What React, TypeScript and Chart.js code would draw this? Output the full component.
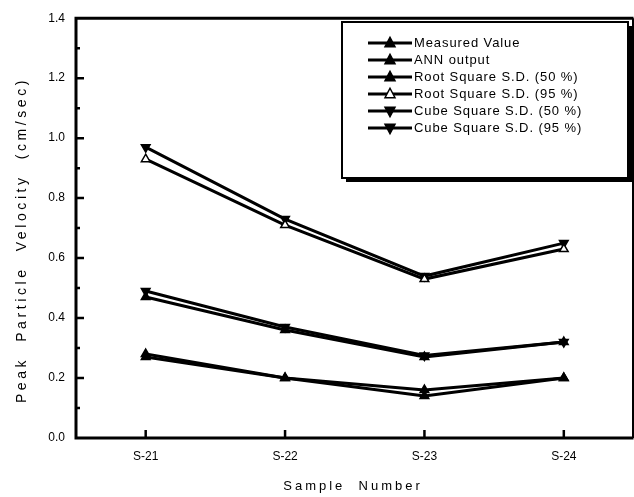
import React, { useEffect, useRef } from "react";
import { Chart, registerables } from "chart.js";

Chart.register(...registerables);

const categories = ["S-21", "S-22", "S-23", "S-24"];
const measuredValue = [0.28, 0.2, 0.16, 0.2];
const annOutput = [0.27, 0.2, 0.14, 0.2];
const rootSD50 = [0.47, 0.36, 0.27, 0.32];
const rootSD95 = [0.93, 0.71, 0.53, 0.63];
const cubeSD50 = [0.49, 0.37, 0.275, 0.32];
const cubeSD95 = [0.97, 0.73, 0.54, 0.65];
const seriesNames = [
  "Measured Value",
  "ANN output",
  "Root Square S.D. (50 %)",
  "Root Square S.D. (95 %)",
  "Cube Square S.D. (50 %)",
  "Cube Square S.D. (95 %)",
];
const yTitle = "Peak  Particle  Velocity  (cm/sec)";
const xTitle = "Sample  Number";

const FONT = "'Liberation Sans', Arial, sans-serif";

const framePlugin = {
  id: "frame",
  afterDraw(chart: any) {
    const { ctx, chartArea } = chart;
    const { left, right, top, bottom } = chartArea;
    const x = chart.scales.x;
    const y = chart.scales.y;
    ctx.save();
    ctx.strokeStyle = "#000";
    ctx.lineWidth = 3;
    ctx.beginPath();
    ctx.moveTo(left, top);
    ctx.lineTo(right, top);
    ctx.moveTo(right, top);
    ctx.lineTo(right, bottom);
    ctx.moveTo(left - 1.5, bottom);
    ctx.lineTo(right, bottom);
    ctx.moveTo(left, top - 1.5);
    ctx.lineTo(left, bottom + 1.5);
    ctx.stroke();
    // inward ticks
    ctx.lineWidth = 2.5;
    ctx.beginPath();
    for (let i = 1; i < 14; i++) {
      const v = i / 10;
      const py = y.getPixelForValue(v);
      const len = i % 2 === 0 ? 8 : 4;
      ctx.moveTo(left, py);
      ctx.lineTo(left + len, py);
    }
    for (let i = 0; i < categories.length; i++) {
      const px = x.getPixelForValue(i);
      ctx.moveTo(px, bottom);
      ctx.lineTo(px, bottom - 8);
    }
    ctx.stroke();

    // axis titles
    ctx.fillStyle = "#000";
    ctx.font = `13px ${FONT}`;
    (ctx as any).letterSpacing = "3px";
    ctx.textAlign = "center";
    ctx.textBaseline = "middle";
    ctx.fillText(xTitle, 353, 486);
    ctx.save();
    ctx.translate(22, 240);
    ctx.rotate(-Math.PI / 2);
    ctx.font = `14px ${FONT}`;
    (ctx as any).letterSpacing = "3.6px";
    ctx.fillText(yTitle, 0, 0);
    ctx.restore();
    ctx.restore();
  },
};

const legendPlugin = {
  id: "customLegend",
  afterDraw(chart: any) {
    const { ctx } = chart;
    const bx = 342, by = 22, bw = 286, bh = 156;
    ctx.save();
    ctx.fillStyle = "#000";
    ctx.fillRect(bx + 4, by + 4, bw, bh);
    ctx.fillStyle = "#fff";
    ctx.fillRect(bx, by, bw, bh);
    ctx.strokeStyle = "#000";
    ctx.lineWidth = 2;
    ctx.strokeRect(bx, by, bw, bh);
    chart.data.datasets.forEach((ds: any, i: number) => {
      const ry = 43 + i * 17;
      ctx.strokeStyle = "#000";
      ctx.lineWidth = 3;
      ctx.beginPath();
      ctx.moveTo(368, ry);
      ctx.lineTo(412, ry);
      ctx.stroke();
      ctx.lineWidth = 1.5;
      ctx.fillStyle = ds.pointBackgroundColor;
      ctx.strokeStyle = "#000";
      const r = 5;
      ctx.save();
      ctx.translate(390, ry);
      ctx.rotate(((ds.pointRotation || 0) * Math.PI) / 180);
      ctx.beginPath();
      ctx.moveTo(0, -r * 1.15);
      ctx.lineTo(r, r * 0.75);
      ctx.lineTo(-r, r * 0.75);
      ctx.closePath();
      ctx.fill();
      ctx.stroke();
      ctx.restore();
      ctx.fillStyle = "#000";
      ctx.font = `13px ${FONT}`;
      (ctx as any).letterSpacing = "0.9px";
      ctx.textAlign = "left";
      ctx.textBaseline = "middle";
      ctx.fillText(ds.label, 414, ry);
    });
    ctx.restore();
  },
};

function makeDataset(label: string, data: number[], fill: string, rotation: number) {
  return {
    label,
    data,
    borderColor: "#000",
    borderWidth: 3,
    pointStyle: "triangle",
    pointRotation: rotation,
    pointRadius: 5,
    pointBorderWidth: 1.5,
    pointBackgroundColor: fill,
    pointBorderColor: "#000",
    fill: false,
    tension: 0,
  };
}

export default function App() {
  const ref = useRef<HTMLCanvasElement>(null);
  useEffect(() => {
    if (!ref.current) return;
    const chart = new Chart(ref.current, {
      type: "line",
      data: {
        labels: categories,
        datasets: [
          makeDataset(seriesNames[0], measuredValue, "#000", 0),
          makeDataset(seriesNames[1], annOutput, "#000", 0),
          makeDataset(seriesNames[2], rootSD50, "#000", 0),
          makeDataset(seriesNames[3], rootSD95, "#fff", 0),
          makeDataset(seriesNames[4], cubeSD50, "#000", 180),
          makeDataset(seriesNames[5], cubeSD95, "#000", 180),
        ] as any,
      },
      options: {
        animation: false,
        responsive: false,
        layout: { padding: { top: 15, right: 0, left: 0, bottom: 0 } },
        plugins: { legend: { display: false }, tooltip: { enabled: false } },
        scales: {
          x: {
            type: "category",
            offset: true,
            grid: { display: false, drawTicks: false },
            border: { display: false },
            ticks: { color: "#000", font: { family: FONT, size: 12 }, padding: 11 },
            afterFit(scale: any) {
              scale.height = 59;
            },
          },
          y: {
            min: 0,
            max: 1.4,
            grid: { display: false, drawTicks: false },
            border: { display: false },
            ticks: {
              stepSize: 0.2,
              color: "#000",
              font: { family: FONT, size: 12 },
              padding: 11,
              callback: (v: any) => Number(v).toFixed(1),
            },
            afterFit(scale: any) {
              scale.width = 76;
            },
          },
        },
      },
      plugins: [framePlugin, legendPlugin],
    });
    return () => chart.destroy();
  }, []);
  return (
    <div style={{ position: "fixed", left: 0, top: 0, width: 634, height: 497, overflow: "hidden", background: "#fff" }}>
      <canvas ref={ref} width={640} height={497} style={{ display: "block" }} />
    </div>
  );
}
